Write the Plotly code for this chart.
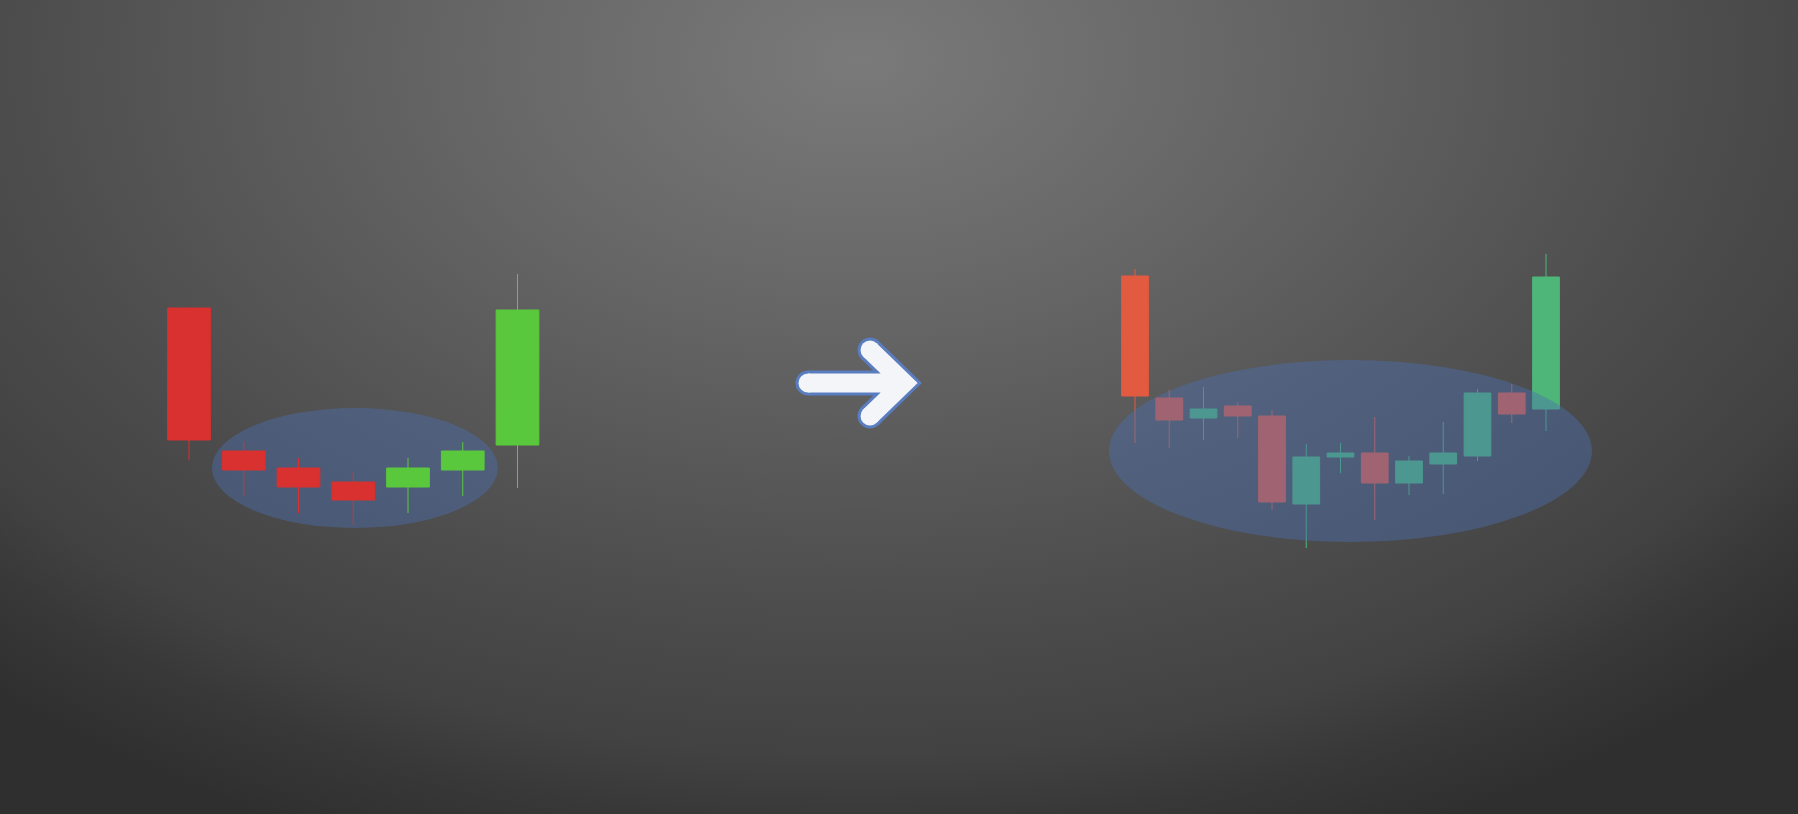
import base64
import plotly.graph_objects as go

W, H = 1798, 814

# ---------------- data ----------------
# Left pattern: 7 candles
left_x = [0, 1, 2, 3, 4, 5, 6]
left_open = [50.6, 36.3, 34.6, 33.2, 32.7, 34.4, 36.9]
left_high = [50.7, 37.2, 35.6, 34.2, 35.6, 37.2, 54.0]
left_low = [35.4, 31.8, 30.1, 28.9, 30.1, 31.8, 32.6]
left_close = [37.4, 34.4, 32.7, 31.4, 34.6, 36.3, 50.4]

# Right pattern: 13 candles
right_x = list(range(13))
right_open = [53.8, 41.6, 39.6, 40.8, 39.8, 31.0, 35.7, 36.1, 33.1, 35.0, 35.8, 42.1, 40.5]
right_high = [54.5, 42.4, 42.7, 41.2, 40.4, 37.0, 37.1, 39.7, 35.8, 39.2, 42.5, 43.0, 56.0]
right_low = [37.1, 36.6, 37.4, 37.6, 30.4, 26.6, 34.1, 29.4, 31.9, 32.0, 35.3, 39.1, 38.3]
right_close = [41.8, 39.4, 40.5, 39.8, 31.2, 35.7, 36.1, 33.1, 35.3, 36.1, 42.1, 40.0, 53.7]

# ---------------- figure ----------------
fig = go.Figure()

fig.add_trace(go.Candlestick(
    x=left_x, open=left_open, high=left_high, low=left_low, close=left_close,
    xaxis="x", yaxis="y",
    increasing=dict(line=dict(color="#5ac83c", width=1), fillcolor="#5ac83c"),
    decreasing=dict(line=dict(color="#d93030", width=1), fillcolor="#d93030"),
    showlegend=False, hoverinfo="skip",
))
fig.add_trace(go.Candlestick(
    x=right_x, open=right_open, high=right_high, low=right_low, close=right_close,
    xaxis="x2", yaxis="y",
    increasing=dict(line=dict(color="#4eb678", width=1), fillcolor="#4eb678"),
    decreasing=dict(line=dict(color="#e25a40", width=1), fillcolor="#e25a40"),
    showlegend=False, hoverinfo="skip",
))

# axis ranges so the two groups sit where they do in the picture
lx0, lstep = 189.0, 54.75
rx0, rstep = 1135.0, 34.25
left_range = [-lx0 / lstep, (W - lx0) / lstep]
right_range = [-rx0 / rstep, (W - rx0) / rstep]

hidden = dict(visible=False, showgrid=False, zeroline=False, fixedrange=True)

# background radial gradient
svg = (
    '<svg xmlns="http://www.w3.org/2000/svg" width="1798" height="814" viewBox="0 0 1798 814" '
    'preserveAspectRatio="none"><defs>'
    '<radialGradient id="g" gradientUnits="userSpaceOnUse" cx="860" cy="60" r="850" '
    'gradientTransform="translate(860 60) scale(1.53 1) translate(-860 -60)">'
    '<stop offset="0" stop-color="#7a7a7a"/>'
    '<stop offset="0.3" stop-color="#666666"/>'
    '<stop offset="0.66" stop-color="#4c4c4c"/>'
    '<stop offset="0.82" stop-color="#424242"/>'
    '<stop offset="0.9" stop-color="#383838"/>'
    '<stop offset="1" stop-color="#2f2f2f"/>'
    '</radialGradient></defs>'
    '<rect width="1798" height="814" fill="url(#g)"/></svg>'
)
bg_src = "data:image/svg+xml;base64," + base64.b64encode(svg.encode()).decode()


def px(x, y):
    return x / W, 1 - y / H


overlay = "rgba(75,112,175,0.44)"
shapes = []
# left ellipse (behind candles)
shapes.append(dict(type="circle", xref="x", yref="y", x0=0.42, x1=5.64, y0=28.6, y1=40.6,
                   fillcolor=overlay, line=dict(width=0), layer="below"))
# right ellipse (over candles)
shapes.append(dict(type="circle", xref="x2", yref="y", x0=-0.76, x1=13.34, y0=27.2, y1=45.4,
                   fillcolor=overlay, line=dict(width=0), layer="above"))

# arrow
tail = (808, 383)
tip = (904, 383)
arm_top = (870, 350)
arm_bot = (870, 416)


def path_str():
    a = px(*tail); b = px(*tip); c = px(*arm_top); d = px(*arm_bot)
    return (f"M {a[0]},{a[1]} L {b[0]},{b[1]} "
            f"M {c[0]},{c[1]} L {b[0]},{b[1]} L {d[0]},{d[1]}")


def cap(pt, r, color):
    return dict(type="circle", xref="paper", yref="paper", xsizemode="pixel", ysizemode="pixel",
                xanchor=pt[0] / W, yanchor=1 - pt[1] / H, x0=-r, x1=r, y0=-r, y1=r,
                fillcolor=color, line=dict(width=0), layer="above")


blue = "#5a7dbf"
white = "#f3f5f9"
shapes.append(dict(type="path", xref="paper", yref="paper", path=path_str(),
                   line=dict(color=blue, width=25), layer="above"))
for p in (tail, arm_top, arm_bot):
    shapes.append(cap(p, 12.5, blue))
shapes.append(dict(type="path", xref="paper", yref="paper", path=path_str(),
                   line=dict(color=white, width=19), layer="above"))
for p in (tail, arm_top, arm_bot):
    shapes.append(cap(p, 9.5, white))

fig.update_layout(
    width=W, height=H,
    margin=dict(l=0, r=0, t=0, b=0),
    paper_bgcolor="#444444",
    plot_bgcolor="rgba(0,0,0,0)",
    showlegend=False,
    boxgap=0.22,
    boxgroupgap=0,
    xaxis=dict(domain=[0, 1], range=left_range, rangeslider=dict(visible=False), **hidden),
    xaxis2=dict(domain=[0, 1], range=right_range, overlaying="x", anchor="y",
                rangeslider=dict(visible=False), **hidden),
    yaxis=dict(domain=[0, 1], range=[0, 81.4], **hidden),
    images=[dict(source=bg_src, xref="paper", yref="paper", x=0, y=1, sizex=1, sizey=1,
                 sizing="stretch", layer="below", xanchor="left", yanchor="top")],
    shapes=shapes,
)

fig.write_html(
    "out.html",
    config={"displayModeBar": False},
    post_script="document.body.style.margin='0';document.body.style.overflow='hidden';",
)
